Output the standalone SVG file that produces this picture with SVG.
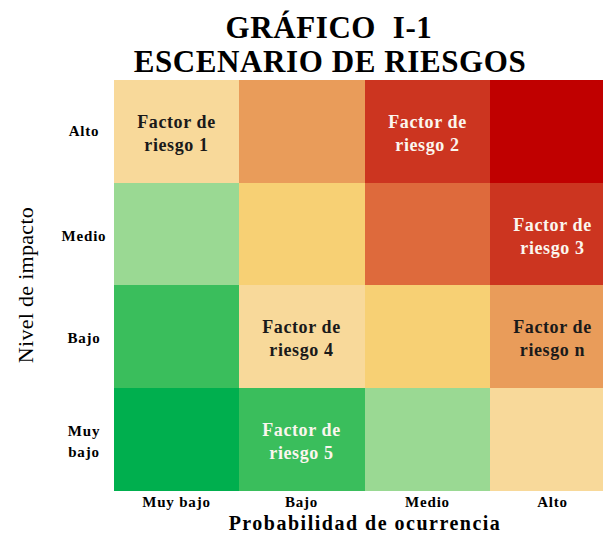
<svg xmlns="http://www.w3.org/2000/svg" width="603" height="533" viewBox="0 0 603 533">
<style>
text{font-family:"Liberation Serif","DejaVu Serif",serif;font-weight:bold;text-anchor:middle}
.t{font-size:31px;fill:#000;letter-spacing:0.6px;white-space:pre}
.c{font-size:18px;letter-spacing:0.6px}
.dk{fill:#1a1a1a}
.wt{fill:#fbf6ee}
.ax{font-size:15px;fill:#000;letter-spacing:0.8px}
.yl{font-size:22px;font-weight:normal;fill:#000;letter-spacing:0.3px}
.xl{font-size:20px;fill:#000;letter-spacing:1.5px}
</style>
<rect width="603" height="533" fill="#ffffff"/>
<g id="title">
<text class="t" x="329" y="38" xml:space="preserve">GRÁFICO  I-1</text>
<text class="t" x="330" y="72">ESCENARIO DE RIESGOS</text>
</g>
<g id="grid">
<g id="r1c1"><rect x="114" y="80" width="125" height="103" fill="#F8D99A"/><text class="c dk" x="176.5" y="128">Factor de</text><text class="c dk" x="176.5" y="151">riesgo 1</text></g>
<g id="r1c2"><rect x="239" y="80" width="126" height="103" fill="#E99C5A"/></g>
<g id="r1c3"><rect x="365" y="80" width="125" height="103" fill="#CC3520"/><text class="c wt" x="427.5" y="128">Factor de</text><text class="c wt" x="427.5" y="151">riesgo 2</text></g>
<g id="r1c4"><rect x="490" y="80" width="125" height="103" fill="#C00000"/></g>

<g id="r2c1"><rect x="114" y="183" width="125" height="102" fill="#9AD993"/></g>
<g id="r2c2"><rect x="239" y="183" width="126" height="102" fill="#F7D074"/></g>
<g id="r2c3"><rect x="365" y="183" width="125" height="102" fill="#DE6A3C"/></g>
<g id="r2c4"><rect x="490" y="183" width="125" height="102" fill="#CC3520"/><text class="c wt" x="552.5" y="231">Factor de</text><text class="c wt" x="552.5" y="254">riesgo 3</text></g>

<g id="r3c1"><rect x="114" y="285" width="125" height="103" fill="#3ABE5C"/></g>
<g id="r3c2"><rect x="239" y="285" width="126" height="103" fill="#F8D99A"/><text class="c dk" x="301.5" y="333">Factor de</text><text class="c dk" x="301.5" y="356">riesgo 4</text></g>
<g id="r3c3"><rect x="365" y="285" width="125" height="103" fill="#F7D074"/></g>
<g id="r3c4"><rect x="490" y="285" width="125" height="103" fill="#E99C5A"/><text class="c dk" x="552.5" y="333">Factor de</text><text class="c dk" x="552.5" y="356">riesgo n</text></g>

<g id="r4c1"><rect x="114" y="388" width="125" height="103" fill="#00AF4E"/></g>
<g id="r4c2"><rect x="239" y="388" width="126" height="103" fill="#3ABE5C"/><text class="c wt" x="301.5" y="436">Factor de</text><text class="c wt" x="301.5" y="459">riesgo 5</text></g>
<g id="r4c3"><rect x="365" y="388" width="125" height="103" fill="#9AD993"/></g>
<g id="r4c4"><rect x="490" y="388" width="125" height="103" fill="#F8D99A"/></g>
</g>
<g id="row-labels">
<text class="ax" x="84" y="136">Alto</text>
<text class="ax" x="84" y="241">Medio</text>
<text class="ax" x="84" y="343">Bajo</text>
<text class="ax" x="84" y="436">Muy</text>
<text class="ax" x="84" y="457">bajo</text>
</g>
<g id="col-labels">
<text class="ax" x="176.5" y="507">Muy bajo</text>
<text class="ax" x="301.5" y="507">Bajo</text>
<text class="ax" x="427.5" y="507">Medio</text>
<text class="ax" x="552.5" y="507">Alto</text>
</g>
<g id="axis-titles">
<text class="yl" transform="translate(33,285) rotate(-90)">Nivel de impacto</text>
<text class="xl" x="365" y="530">Probabilidad de ocurrencia</text>
</g>
</svg>
